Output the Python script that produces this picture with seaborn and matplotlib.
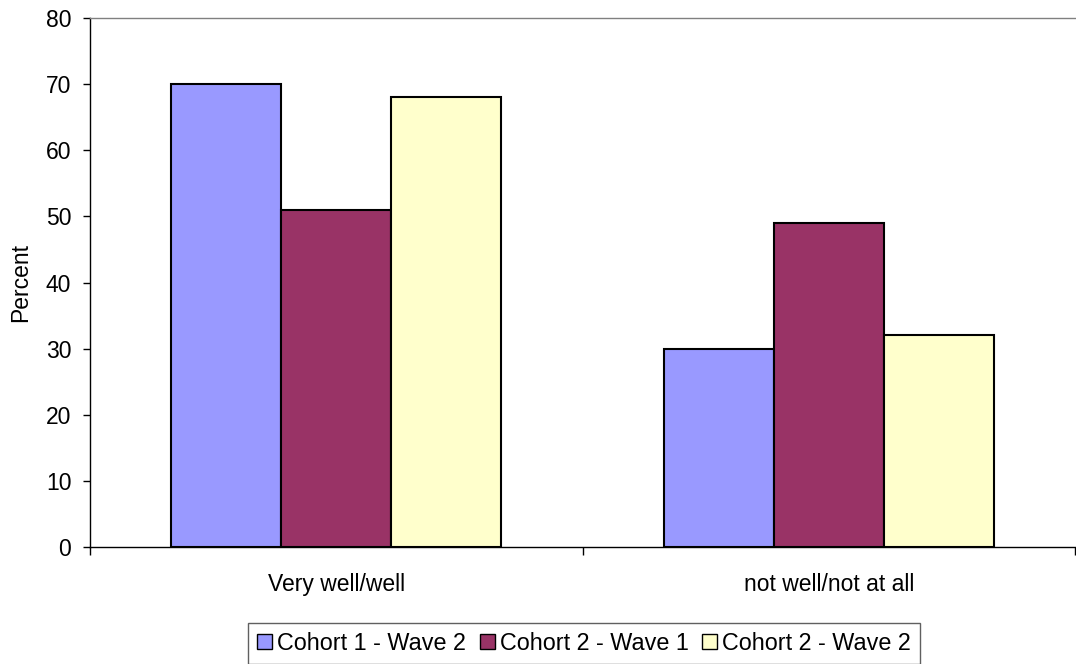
import matplotlib
matplotlib.use("Agg")
import matplotlib.pyplot as plt
import seaborn as sns
import pandas as pd

categories = ["Very well/well", "not well/not at all"]
series_names = ["Cohort 1 - Wave 2", "Cohort 2 - Wave 1", "Cohort 2 - Wave 2"]
cohort1_wave2 = [70, 30]
cohort2_wave1 = [51, 49]
cohort2_wave2 = [68, 32]
colors = ["#9999FF", "#993366", "#FFFFCC"]
y_ticks = [0, 10, 20, 30, 40, 50, 60, 70, 80]

rows = []
for name, vals in zip(series_names, [cohort1_wave2, cohort2_wave1, cohort2_wave2]):
    for cat, v in zip(categories, vals):
        rows.append({"Category": cat, "Series": name, "Percent": v})
df = pd.DataFrame(rows)

sns.set_theme(style="white")
plt.rcParams["font.family"] = ["Liberation Sans", "DejaVu Sans"]
plt.rcParams["text.color"] = "black"
plt.rcParams["axes.labelcolor"] = "black"
plt.rcParams["xtick.color"] = "black"
plt.rcParams["ytick.color"] = "black"

FS = 16.5

fig = plt.figure(figsize=(10.76, 6.64), dpi=100)
ax = fig.add_axes([90 / 1076, 1 - 547 / 664, 985 / 1076, 529 / 664])

sns.barplot(data=df, x="Category", y="Percent", hue="Series",
            hue_order=series_names, order=categories, palette=colors,
            width=0.67, edgecolor="black", linewidth=1.5, saturation=1,
            ax=ax, legend=True)

ax.set_xlim(-0.5, 1.5)
ax.set_ylim(0, 80)
ax.set_yticks(y_ticks)
ax.set_yticklabels([str(t) for t in y_ticks], fontsize=FS)
ax.set_xlabel("")
ax.set_ylabel("Percent", fontsize=FS)
ax.yaxis.set_label_coords(-0.059, 0.5)

# category boundary ticks on the x axis
ax.set_xticks([-0.5, 0.5, 1.5], minor=False)
ax.set_xticklabels(["", "", ""])
ax.set_xticks([0, 1], minor=True)
ax.set_xticklabels(categories, minor=True, fontsize=FS)
ax.tick_params(axis="x", which="major", direction="out", length=5.5, width=1, color="black", bottom=True)
ax.tick_params(axis="x", which="minor", length=0, pad=19)
ax.tick_params(axis="y", direction="out", length=5, width=1, color="black", left=True, pad=8.5)

for side in ["left", "bottom"]:
    ax.spines[side].set_color("black")
    ax.spines[side].set_linewidth(1)
ax.spines["right"].set_visible(False)
ax.spines["top"].set_color("#808080")
ax.spines["top"].set_linewidth(1)

leg = ax.get_legend()
handles = leg.legend_handles
leg.remove()
legend = fig.legend(handles, series_names, loc="lower center", bbox_to_anchor=(584 / 1076, -0.018),
                    ncol=3, fontsize=16.8, frameon=True, fancybox=False, edgecolor="#606060",
                    handlelength=0.64, handleheight=0.64, handletextpad=0.22, columnspacing=0.58,
                    borderpad=0.4, framealpha=1)
for h in legend.legend_handles:
    h.set_linewidth(1)

fig.savefig("out.png", dpi=100)
